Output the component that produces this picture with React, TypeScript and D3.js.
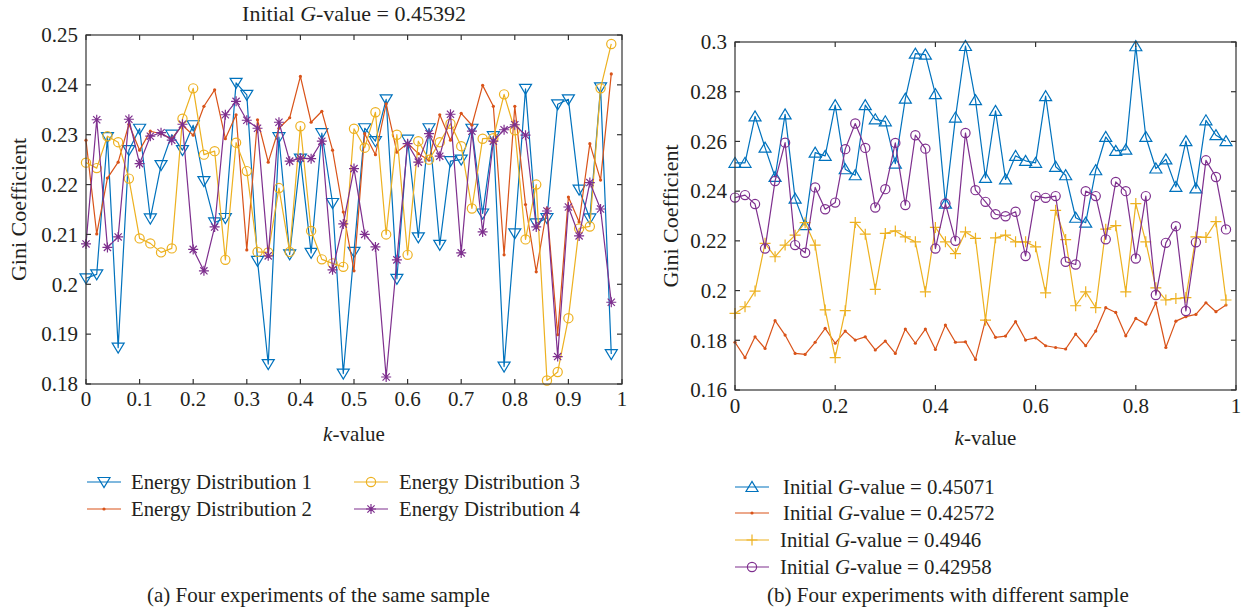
import React from 'react';
import * as d3 from 'd3';

// ---------- data ----------
const kValues = [0, 0.02, 0.04, 0.06, 0.08, 0.1, 0.12, 0.14, 0.16, 0.18, 0.2, 0.22, 0.24, 0.26, 0.28, 0.3, 0.32, 0.34, 0.36, 0.38, 0.4, 0.42, 0.44, 0.46, 0.48, 0.5, 0.52, 0.54, 0.56, 0.58, 0.6, 0.62, 0.64, 0.66, 0.68, 0.7, 0.72, 0.74, 0.76, 0.78, 0.8, 0.82, 0.84, 0.86, 0.88, 0.9, 0.92, 0.94, 0.96, 0.98];

const energy1 = [0.2012, 0.2020, 0.2295, 0.1873, 0.2269, 0.2312, 0.2132, 0.2239, 0.2300, 0.2269, 0.2319, 0.2207, 0.2124, 0.2133, 0.2404, 0.2380, 0.2047, 0.1840, 0.2295, 0.2060, 0.2252, 0.2063, 0.2303, 0.2163, 0.1821, 0.2065, 0.2313, 0.2287, 0.2371, 0.2011, 0.2290, 0.2094, 0.2313, 0.2079, 0.2247, 0.2250, 0.2312, 0.2142, 0.2297, 0.1835, 0.2102, 0.2392, 0.2122, 0.2133, 0.2361, 0.2371, 0.2190, 0.2132, 0.2395, 0.1860];
const energy2 = [0.2289, 0.2101, 0.2213, 0.2245, 0.2321, 0.2269, 0.2307, 0.2302, 0.2292, 0.2319, 0.2299, 0.2357, 0.2390, 0.2292, 0.2340, 0.2069, 0.2330, 0.2245, 0.2313, 0.2334, 0.2417, 0.2325, 0.2347, 0.2269, 0.2145, 0.2027, 0.2302, 0.2260, 0.2362, 0.2265, 0.2283, 0.2262, 0.2249, 0.2340, 0.2289, 0.2343, 0.2319, 0.2399, 0.2357, 0.2059, 0.2357, 0.2160, 0.2025, 0.2152, 0.1899, 0.2175, 0.2125, 0.2282, 0.2209, 0.2422];
const energy3 = [0.2244, 0.2233, 0.2297, 0.2285, 0.2212, 0.2092, 0.2082, 0.2064, 0.2072, 0.2332, 0.2393, 0.2260, 0.2267, 0.2049, 0.2284, 0.2227, 0.2065, 0.2064, 0.2193, 0.2065, 0.2317, 0.2107, 0.2050, 0.2042, 0.2035, 0.2312, 0.2274, 0.2345, 0.2100, 0.2300, 0.2059, 0.2287, 0.2250, 0.2285, 0.2322, 0.2277, 0.2152, 0.2292, 0.2293, 0.2381, 0.2309, 0.2090, 0.2200, 0.1807, 0.1824, 0.1932, 0.2112, 0.2116, 0.2393, 0.2482];
const energy4 = [0.2081, 0.2330, 0.2074, 0.2095, 0.2331, 0.2242, 0.2297, 0.2304, 0.2289, 0.2321, 0.2070, 0.2027, 0.2115, 0.2340, 0.2367, 0.2329, 0.2313, 0.2057, 0.2325, 0.2247, 0.2253, 0.2252, 0.2287, 0.2029, 0.2121, 0.2232, 0.2100, 0.2075, 0.1814, 0.2049, 0.2282, 0.2245, 0.2302, 0.2257, 0.2341, 0.2063, 0.2307, 0.2105, 0.2287, 0.2310, 0.2320, 0.2299, 0.2115, 0.2147, 0.1855, 0.2155, 0.2097, 0.2204, 0.2151, 0.1964];

const sample1 = [0.2514, 0.2514, 0.2701, 0.2575, 0.2457, 0.2709, 0.2370, 0.2263, 0.2555, 0.2542, 0.2746, 0.2488, 0.2464, 0.2746, 0.2689, 0.2681, 0.2511, 0.2772, 0.2953, 0.2949, 0.2790, 0.2350, 0.2696, 0.2984, 0.2766, 0.2453, 0.2723, 0.2447, 0.2542, 0.2522, 0.2514, 0.2782, 0.2498, 0.2464, 0.2293, 0.2273, 0.2484, 0.2618, 0.2562, 0.2567, 0.2983, 0.2618, 0.2491, 0.2528, 0.2417, 0.2601, 0.2411, 0.2685, 0.2625, 0.2601];
const sample2 = [0.1792, 0.1730, 0.1814, 0.1767, 0.1879, 0.1821, 0.1747, 0.1743, 0.1792, 0.1848, 0.1788, 0.1837, 0.1801, 0.1814, 0.1761, 0.1797, 0.1747, 0.1845, 0.1788, 0.1845, 0.1763, 0.1861, 0.1792, 0.1794, 0.1723, 0.1881, 0.1812, 0.1817, 0.1875, 0.1801, 0.1810, 0.1778, 0.1771, 0.1765, 0.1825, 0.1778, 0.1837, 0.1931, 0.1912, 0.1818, 0.1888, 0.1865, 0.1951, 0.1771, 0.1877, 0.1895, 0.1904, 0.1951, 0.1915, 0.1942];
const sample3 = [0.1908, 0.1935, 0.1998, 0.2190, 0.2136, 0.2183, 0.2223, 0.2273, 0.2183, 0.1922, 0.1730, 0.1919, 0.2274, 0.2227, 0.2005, 0.2230, 0.2240, 0.2216, 0.2196, 0.1995, 0.2254, 0.2196, 0.2149, 0.2236, 0.2210, 0.1881, 0.2212, 0.2223, 0.2196, 0.2196, 0.2176, 0.1991, 0.2323, 0.2205, 0.1939, 0.1995, 0.1931, 0.2247, 0.2261, 0.1995, 0.2350, 0.2196, 0.2011, 0.1962, 0.1968, 0.1972, 0.2216, 0.2214, 0.2277, 0.1962];
const sample4 = [0.2374, 0.2384, 0.2348, 0.2169, 0.2441, 0.2595, 0.2183, 0.2152, 0.2415, 0.2327, 0.2354, 0.2569, 0.2672, 0.2574, 0.2334, 0.2408, 0.2594, 0.2344, 0.2625, 0.2571, 0.2169, 0.2350, 0.2200, 0.2634, 0.2404, 0.2357, 0.2307, 0.2299, 0.2317, 0.2139, 0.2380, 0.2373, 0.2380, 0.2116, 0.2105, 0.2400, 0.2380, 0.2206, 0.2437, 0.2400, 0.2129, 0.2380, 0.1982, 0.2192, 0.2259, 0.1918, 0.2194, 0.2524, 0.2457, 0.2246];

const leftXTicks = [0, 0.1, 0.2, 0.3, 0.4, 0.5, 0.6, 0.7, 0.8, 0.9, 1];
const leftXTickLabels = ['0', '0.1', '0.2', '0.3', '0.4', '0.5', '0.6', '0.7', '0.8', '0.9', '1'];
const leftYTicks = [0.18, 0.19, 0.2, 0.21, 0.22, 0.23, 0.24, 0.25];
const leftYTickLabels = ['0.18', '0.19', '0.2', '0.21', '0.22', '0.23', '0.24', '0.25'];
const rightXTicks = [0, 0.2, 0.4, 0.6, 0.8, 1];
const rightXTickLabels = ['0', '0.2', '0.4', '0.6', '0.8', '1'];
const rightYTicks = [0.16, 0.18, 0.2, 0.22, 0.24, 0.26, 0.28, 0.3];
const rightYTickLabels = ['0.16', '0.18', '0.2', '0.22', '0.24', '0.26', '0.28', '0.3'];

const leftNames = ['Energy Distribution 1', 'Energy Distribution 2', 'Energy Distribution 3', 'Energy Distribution 4'];
const rightGValues = ['0.45071', '0.42572', '0.4946', '0.42958'];

// ---------- style ----------
const BLUE = '#0072BD';
const ORANGE = '#D95319';
const YELLOW = '#EDB120';
const PURPLE = '#7E2F8E';
const TEXT = '#231f20';
const AXIS = '#333333';
const FONT = '"Liberation Serif", "DejaVu Serif", serif';

type MarkerType = 'v' | '^' | 'o' | '.' | '*' | '+';

function Marker({ type, x, y, color }: { type: MarkerType; x: number; y: number; color: string }) {
  const sw = 1.2;
  switch (type) {
    case 'v':
      return <path d={`M${x - 6},${y - 4.5}L${x + 6},${y - 4.5}L${x},${y + 5.5}Z`} fill="none" stroke={color} strokeWidth={sw} />;
    case '^':
      return <path d={`M${x - 6},${y + 4.5}L${x + 6},${y + 4.5}L${x},${y - 5.5}Z`} fill="none" stroke={color} strokeWidth={sw} />;
    case 'o':
      return <circle cx={x} cy={y} r={4.6} fill="none" stroke={color} strokeWidth={sw} />;
    case '.':
      return <circle cx={x} cy={y} r={1.6} fill={color} stroke="none" />;
    case '*': {
      const h = 5, d = 3.6;
      return (
        <path d={`M${x - h},${y}L${x + h},${y}M${x},${y - h}L${x},${y + h}M${x - d},${y - d}L${x + d},${y + d}M${x - d},${y + d}L${x + d},${y - d}`} stroke={color} strokeWidth={sw} fill="none" />
      );
    }
    case '+': {
      const h = 5.5;
      return <path d={`M${x - h},${y}L${x + h},${y}M${x},${y - h}L${x},${y + h}`} stroke={color} strokeWidth={sw} fill="none" />;
    }
  }
  return null;
}

type Series = { values: number[]; color: string; marker: MarkerType };

function Panel({ x0, x1, yTop, yBottom, yDomain, xTicks, xTickLabels, yTicks, yTickLabels, series, xLabelY, yLabelX, xTickY }: {
  x0: number; x1: number; yTop: number; yBottom: number; yDomain: [number, number];
  xTicks: number[]; xTickLabels: string[]; yTicks: number[]; yTickLabels: string[];
  series: Series[]; xLabelY: number; yLabelX: number; xTickY: number;
}) {
  const xs = d3.scaleLinear().domain([0, 1]).range([x0, x1]);
  const ys = d3.scaleLinear().domain(yDomain).range([yBottom, yTop]);
  const line = d3.line<number>().x((_, i) => xs(kValues[i])).y((v) => ys(v));
  const tl = 5;
  const cx = (x0 + x1) / 2;
  const cy = (yTop + yBottom) / 2;
  return (
    <g>
      {series.map((s, si) => (
        <g key={si}>
          <path d={line(s.values) || ''} fill="none" stroke={s.color} strokeWidth={1.2} strokeLinejoin="round" />
          {s.values.map((v, i) => (
            <Marker key={i} type={s.marker} x={xs(kValues[i])} y={ys(v)} color={s.color} />
          ))}
        </g>
      ))}
      <rect x={x0} y={yTop} width={x1 - x0} height={yBottom - yTop} fill="none" stroke={AXIS} strokeWidth={1.2} />
      {xTicks.map((t, i) => (
        <g key={'xt' + i}>
          <line x1={xs(t)} x2={xs(t)} y1={yBottom} y2={yBottom - tl} stroke={AXIS} strokeWidth={1.2} />
          <line x1={xs(t)} x2={xs(t)} y1={yTop} y2={yTop + tl} stroke={AXIS} strokeWidth={1.2} />
          <text x={xs(t)} y={xTickY} textAnchor="middle" fontSize={21} fill={TEXT} fontFamily={FONT}>{xTickLabels[i]}</text>
        </g>
      ))}
      {yTicks.map((t, i) => (
        <g key={'yt' + i}>
          <line x1={x0} x2={x0 + tl} y1={ys(t)} y2={ys(t)} stroke={AXIS} strokeWidth={1.2} />
          <line x1={x1} x2={x1 - tl} y1={ys(t)} y2={ys(t)} stroke={AXIS} strokeWidth={1.2} />
          <text x={x0 - 8} y={ys(t)} dy="0.35em" textAnchor="end" fontSize={21} fill={TEXT} fontFamily={FONT}>{yTickLabels[i]}</text>
        </g>
      ))}
      <text x={cx} y={xLabelY} textAnchor="middle" fontSize={21} fill={TEXT} fontFamily={FONT}>
        <tspan fontStyle="italic">k</tspan>-value
      </text>
      <text transform={`translate(${yLabelX},${cy}) rotate(-90)`} textAnchor="middle" fontSize={22} fill={TEXT} fontFamily={FONT}>Gini Coefficient</text>
    </g>
  );
}

function LegendItem({ x, y, color, marker, children, textX }: { x: number; y: number; color: string; marker: MarkerType; children: React.ReactNode; textX: number }) {
  return (
    <g>
      <line x1={x} x2={x + 34} y1={y} y2={y} stroke={color} strokeWidth={1.2} />
      <Marker type={marker} x={x + 17} y={y} color={color} />
      <text x={textX} y={y} dy="0.33em" fontSize={20.8} fill={TEXT} fontFamily={FONT}>{children}</text>
    </g>
  );
}

export default function App() {
  const leftSeries: Series[] = [
    { values: energy1, color: BLUE, marker: 'v' },
    { values: energy2, color: ORANGE, marker: '.' },
    { values: energy3, color: YELLOW, marker: 'o' },
    { values: energy4, color: PURPLE, marker: '*' },
  ];
  const rightSeries: Series[] = [
    { values: sample1, color: BLUE, marker: '^' },
    { values: sample2, color: ORANGE, marker: '.' },
    { values: sample3, color: YELLOW, marker: '+' },
    { values: sample4, color: PURPLE, marker: 'o' },
  ];
  const leftLegendPos = [
    { x: 87, y: 482, tx: 131 },
    { x: 87, y: 509, tx: 131 },
    { x: 354, y: 482, tx: 399 },
    { x: 354, y: 509, tx: 399 },
  ];
  const rightLegendPos = [
    { y: 487, tx: 783 },
    { y: 513, tx: 783 },
    { y: 540, tx: 780 },
    { y: 567, tx: 780 },
  ];
  return (
    <div style={{ position: 'absolute', left: 0, top: 0 }}>
      <svg width={1250} height={612} viewBox="0 0 1250 612" style={{ display: 'block', background: '#fff' }}>
        <rect x={0} y={0} width={1250} height={612} fill="#fff" />
        <text x={354} y={21} textAnchor="middle" fontSize={22} fill={TEXT} fontFamily={FONT}>
          Initial <tspan fontStyle="italic">G</tspan>-value = 0.45392
        </text>
        <Panel x0={86} x1={622} yTop={35} yBottom={384} yDomain={[0.18, 0.25]}
          xTicks={leftXTicks} xTickLabels={leftXTickLabels} yTicks={leftYTicks} yTickLabels={leftYTickLabels}
          series={leftSeries} xLabelY={441} yLabelX={26} xTickY={406} />
        <Panel x0={735} x1={1236} yTop={42} yBottom={390} yDomain={[0.16, 0.3]}
          xTicks={rightXTicks} xTickLabels={rightXTickLabels} yTicks={rightYTicks} yTickLabels={rightYTickLabels}
          series={rightSeries} xLabelY={445} yLabelX={678} xTickY={413} />
        {leftSeries.map((s, i) => (
          <LegendItem key={'ll' + i} x={leftLegendPos[i].x} y={leftLegendPos[i].y} textX={leftLegendPos[i].tx} color={s.color} marker={s.marker}>
            {leftNames[i]}
          </LegendItem>
        ))}
        {rightSeries.map((s, i) => (
          <LegendItem key={'rl' + i} x={735} y={rightLegendPos[i].y} textX={rightLegendPos[i].tx} color={s.color} marker={s.marker}>
            Initial <tspan fontStyle="italic">G</tspan>-value = {rightGValues[i]}
          </LegendItem>
        ))}
        <text x={147} y={602} fontSize={21} fill={TEXT} fontFamily={FONT}>(a)  Four experiments of the same sample</text>
        <text x={767} y={602} fontSize={21} fill={TEXT} fontFamily={FONT}>(b)  Four experiments with different sample</text>
      </svg>
    </div>
  );
}
